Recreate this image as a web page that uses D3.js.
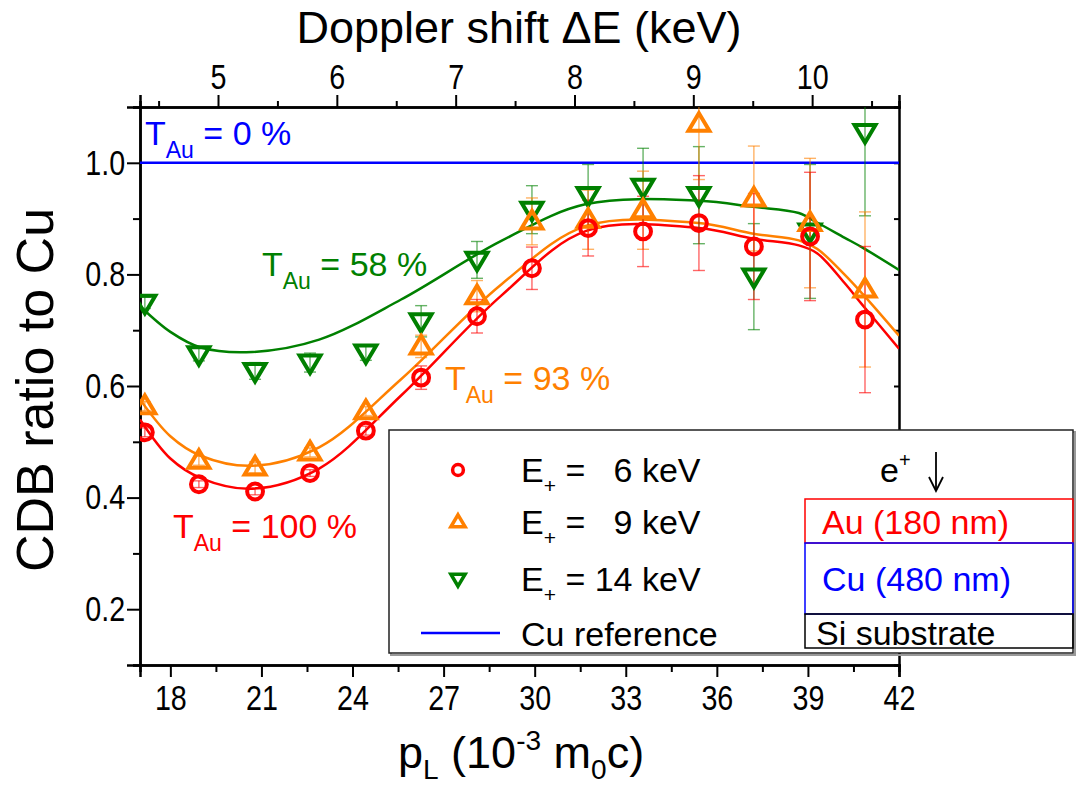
<!DOCTYPE html>
<html>
<head>
<meta charset="utf-8">
<script src="https://cdn.jsdelivr.net/npm/d3@7/dist/d3.min.js"></script>
<style>
  body { margin: 0; background: #fff; }
  text { font-family: "Liberation Sans", Arial, sans-serif; white-space: pre; }
</style>
</head>
<body>
<div id="chart"></div>
<script>
// measured points (p_L in 10^-3 m0c)
var pL = [17.16, 18.94, 20.79, 22.6, 24.44, 26.26, 28.1, 29.91, 31.76, 33.57, 35.41, 37.22, 39.07, 40.88]
var ratio6 = [0.517, 0.424, 0.411, 0.444, 0.52, 0.615, 0.725, 0.811, 0.883, 0.877, 0.892, 0.85, 0.868, 0.719]
var err6 = [0.008, 0.006, 0.006, 0.006, 0.008, 0.021, 0.03, 0.038, 0.05, 0.063, 0.085, 0.095, 0.115, 0.131]
var ratio9 = [0.564, 0.466, 0.454, 0.481, 0.555, 0.671, 0.761, 0.895, 0.898, 0.915, 1.07, 0.936, 0.892, 0.773]
var err9 = [0.008, 0.008, 0.01, 0.008, 0.008, 0.02, 0.028, 0.042, 0.053, 0.07, 0.1, 0.094, 0.116, 0.139]
var ratio14 = [0.749, 0.657, 0.627, 0.642, 0.66, 0.716, 0.826, 0.916, 0.942, 0.957, 0.942, 0.796, 0.877, 1.055]
var err14 = [0.01, 0.012, 0.015, 0.017, 0.014, 0.028, 0.033, 0.043, 0.055, 0.069, 0.087, 0.095, 0.12, 0.15]

// fitted curves
var fitP = [17.0, 18.0, 19.0, 20.7, 22.9, 25.6, 28.9, 31.7, 35.4, 37.2, 38.7, 39.3, 40.2, 40.8, 42.0]
var fit6 = [0.54, 0.47, 0.435, 0.416, 0.452, 0.583, 0.762, 0.878, 0.883, 0.864, 0.852, 0.838, 0.785, 0.745, 0.667]
var fit9 = [0.576, 0.51, 0.475, 0.457, 0.49, 0.612, 0.782, 0.887, 0.892, 0.873, 0.861, 0.846, 0.8, 0.765, 0.69]
var fit14 = [0.743, 0.697, 0.669, 0.661, 0.683, 0.755, 0.86, 0.926, 0.932, 0.921, 0.91, 0.893, 0.866, 0.848, 0.808]

var cuRef = 1.0
var xTicks = [18, 21, 24, 27, 30, 33, 36, 39, 42]
var yTicks = [0.2, 0.4, 0.6, 0.8, 1.0]
var topTicks = [5, 6, 7, 8, 9, 10]
var keVperP = 0.2555   // m0c^2/2 * 1e-3

var width = 1076, height = 785
var pLeft = 140, pRight = 899, pTop = 107, pBottom = 665

var svg = d3.select("#chart").append("svg")
  .attr("width", width).attr("height", height)

var x = d3.scaleLinear().domain([17, 42]).range([pLeft, pRight])
var y = d3.scaleLinear().domain([0.1, 1.1]).range([pBottom, pTop])
var xTop = d3.scaleLinear().domain([17 * keVperP, 42 * keVperP]).range([pLeft, pRight])

svg.append("clipPath").attr("id", "clip")
  .append("rect").attr("x", pLeft).attr("y", pTop).attr("width", pRight - pLeft).attr("height", pBottom - pTop)

var red = "#ff0000", orange = "#ff8000", green = "#008000", blue = "#0000ff"

// axes
var axisG = svg.append("g").attr("class", "axes")
var bAxis = d3.axisBottom(x).tickValues(xTicks).tickSize(12).tickPadding(8).tickFormat(d3.format("d"))
var bMinor = d3.axisBottom(x).tickValues(xTicks.map(function(d){ return d + 1.5 }).filter(function(d){ return d < 42 })).tickSize(7).tickFormat("")
axisG.append("g").attr("transform", "translate(0," + pBottom + ")").call(bMinor)
axisG.append("g").attr("class", "lab").attr("transform", "translate(0," + pBottom + ")").call(bAxis)

var lAxis = d3.axisLeft(y).tickValues(yTicks).tickSize(13).tickPadding(5).tickFormat(d3.format(".1f"))
var lMinor = d3.axisLeft(y).tickValues([0.1, 0.3, 0.5, 0.7, 0.9, 1.1]).tickSize(7).tickFormat("")
axisG.append("g").attr("transform", "translate(" + pLeft + ",0)").call(lMinor)
axisG.append("g").attr("class", "lab").attr("transform", "translate(" + pLeft + ",0)").call(lAxis)

var tAxis = d3.axisTop(xTop).tickValues(topTicks).tickSize(12).tickPadding(6).tickFormat(d3.format("d"))
var tMinor = d3.axisTop(xTop).tickValues([4.5, 5.5, 6.5, 7.5, 8.5, 9.5, 10.5]).tickSize(6).tickFormat("")
axisG.append("g").attr("transform", "translate(0," + pTop + ")").call(tMinor)
axisG.append("g").attr("class", "lab").attr("transform", "translate(0," + pTop + ")").call(tAxis)

var rAxis = d3.axisLeft(y).tickValues([0.2, 0.3, 0.4, 0.5, 0.6, 0.7, 0.8, 0.9, 1.0]).tickSize(5).tickFormat("")
axisG.append("g").attr("transform", "translate(" + pRight + ",0)").call(rAxis)

axisG.selectAll(".domain").attr("stroke", "#000").attr("stroke-width", 2.5)
axisG.selectAll(".tick line").attr("stroke", "#000").attr("stroke-width", 2)
axisG.selectAll(".lab .tick text").attr("font-size", 35).attr("fill", "#000")
  .attr("transform", "scale(0.82,1)")
  .style("font-family", "'Liberation Sans', Arial, sans-serif")

// axis titles
svg.append("text").attr("x", 519).attr("y", 43).attr("text-anchor", "middle")
  .attr("font-size", 45).text("Doppler shift \u0394E (keV)")

svg.append("text").attr("transform", "translate(53,390) rotate(-90)").attr("text-anchor", "middle")
  .attr("font-size", 52).text("CDB ratio to Cu")

var xt = svg.append("text").attr("x", 398).attr("y", 768).attr("font-size", 45)
xt.append("tspan").text("p")
xt.append("tspan").attr("font-size", 28).attr("dy", 11).text("L")
xt.append("tspan").attr("dy", -11).text(" (10")
xt.append("tspan").attr("font-size", 28).attr("dy", -18).text("-3")
xt.append("tspan").attr("dy", 18).text(" m")
xt.append("tspan").attr("font-size", 28).attr("dy", 11).text("0")
xt.append("tspan").attr("dy", -11).text("c)")

// plot content
var plot = svg.append("g").attr("clip-path", "url(#clip)")

plot.append("line").attr("x1", pLeft).attr("x2", pRight).attr("y1", y(cuRef)).attr("y2", y(cuRef))
  .attr("stroke", blue).attr("stroke-width", 2.5)

var line = d3.line().curve(d3.curveCatmullRom.alpha(0.5))
  .x(function(d){ return x(d[0]) }).y(function(d){ return y(d[1]) })

var series = [
  {vals: ratio14, err: err14, fit: fit14, color: green, shape: "down"},
  {vals: ratio9, err: err9, fit: fit9, color: orange, shape: "up"},
  {vals: ratio6, err: err6, fit: fit6, color: red, shape: "circle"}
]

series.forEach(function(s) {
  plot.append("path").datum(d3.zip(fitP, s.fit)).attr("d", line)
    .attr("fill", "none").attr("stroke", s.color).attr("stroke-width", 2.5)
})

series.forEach(function(s) {
  var g = plot.append("g").attr("stroke", s.color).attr("stroke-opacity", 0.6).attr("stroke-width", 1.4)
  pL.forEach(function(p, i) {
    var cx = x(p), y0 = y(s.vals[i] - s.err[i]), y1 = y(s.vals[i] + s.err[i])
    g.append("line").attr("x1", cx).attr("x2", cx).attr("y1", y0).attr("y2", y1)
    g.append("line").attr("x1", cx - 6).attr("x2", cx + 6).attr("y1", y0).attr("y2", y0)
    g.append("line").attr("x1", cx - 6).attr("x2", cx + 6).attr("y1", y1).attr("y2", y1)
  })
})

function marker(g, shape, cx, cy, color, size, sw) {
  if (shape == "circle") {
    g.append("circle").attr("cx", cx).attr("cy", cy).attr("r", size * 0.72)
      .attr("fill", "none").attr("stroke", color).attr("stroke-width", sw)
  } else {
    var h = size * 1.6, w = size * 1.9
    var pts = shape == "up"
      ? [[cx, cy - h * 0.6], [cx + w / 2, cy + h * 0.4], [cx - w / 2, cy + h * 0.4]]
      : [[cx, cy + h * 0.6], [cx + w / 2, cy - h * 0.4], [cx - w / 2, cy - h * 0.4]]
    g.append("polygon").attr("points", pts.map(function(q){ return q.join(",") }).join(" "))
      .attr("fill", "none").attr("stroke", color).attr("stroke-width", sw).attr("stroke-linejoin", "miter")
  }
}

series.forEach(function(s) {
  var g = plot.append("g")
  pL.forEach(function(p, i) { marker(g, s.shape, x(p), y(s.vals[i]), s.color, 11, 4) })
})

// T_Au labels
function tLabel(xp, yp, color, rest) {
  var t = svg.append("text").attr("x", xp).attr("y", yp).attr("font-size", 34).attr("fill", color)
  t.append("tspan").text("T")
  t.append("tspan").attr("font-size", 23).attr("dy", 13).text("Au")
  t.append("tspan").attr("dy", -13).text(" " + rest)
}
tLabel(145, 145, blue, "= 0 %")
tLabel(262, 276, green, "= 58 %")
tLabel(445, 390, orange, "= 93 %")
tLabel(173, 538, red, "= 100 %")

// legend
var leg = svg.append("g")
leg.append("rect").attr("x", 391).attr("y", 432).attr("width", 684).attr("height", 223)
  .attr("fill", "none").attr("stroke", "#999").attr("stroke-width", 2)
leg.append("rect").attr("x", 389).attr("y", 430).attr("width", 684).attr("height", 223)
  .attr("fill", "#fff").attr("stroke", "#222").attr("stroke-width", 1.5)

var legItems = [
  {shape: "circle", color: red, label: "6 keV", pad: "   ", y: 470},
  {shape: "up", color: orange, label: "9 keV", pad: "   ", y: 522},
  {shape: "down", color: green, label: "14 keV", pad: " ", y: 579}
]
legItems.forEach(function(d) {
  marker(leg, d.shape, 458, d.y, d.color, 7.5, 3.5)
  var t = leg.append("text").attr("x", 521).attr("y", d.y + 12).attr("font-size", 34)
  t.append("tspan").text("E")
  t.append("tspan").attr("font-size", 21).attr("dy", 11).text("+")
  t.append("tspan").attr("dy", -11).text(" =" + d.pad + d.label)
})
leg.append("line").attr("x1", 421).attr("x2", 500).attr("y1", 633).attr("y2", 633)
  .attr("stroke", blue).attr("stroke-width", 2.5)
leg.append("text").attr("x", 521).attr("y", 646).attr("font-size", 34).text("Cu reference")

var ep = leg.append("text").attr("x", 880).attr("y", 482).attr("font-size", 34)
ep.append("tspan").text("e")
ep.append("tspan").attr("font-size", 20).attr("dy", -15).text("+")
leg.append("line").attr("x1", 936).attr("x2", 936).attr("y1", 452).attr("y2", 490)
  .attr("stroke", "#000").attr("stroke-width", 1.8)
leg.append("path").attr("d", "M929,477 L936,491 L943,477").attr("fill", "none")
  .attr("stroke", "#000").attr("stroke-width", 1.8)

var layers = [
  {name: "Au (180 nm)", color: red, y0: 499, y1: 543},
  {name: "Cu (480 nm)", color: blue, y0: 543, y1: 614},
  {name: "Si substrate", color: "#000", y0: 614, y1: 648}
]
layers.forEach(function(l) {
  leg.append("rect").attr("x", 805).attr("y", l.y0).attr("width", 268).attr("height", l.y1 - l.y0)
    .attr("fill", "none").attr("stroke", l.color).attr("stroke-width", 1.5)
})
leg.append("text").attr("x", 822).attr("y", 534).attr("font-size", 34).attr("fill", red).text(layers[0].name)
leg.append("text").attr("x", 822).attr("y", 591).attr("font-size", 34).attr("fill", blue).text(layers[1].name)
leg.append("text").attr("x", 816).attr("y", 645).attr("font-size", 34).attr("fill", "#000").text(layers[2].name)
</script>
</body>
</html>
